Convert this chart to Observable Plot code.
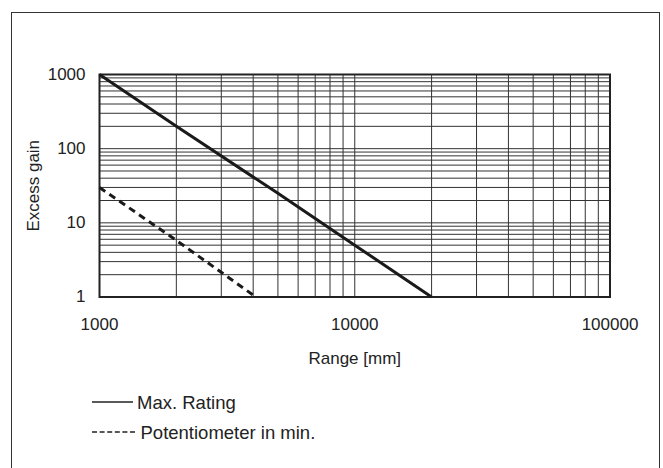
<!DOCTYPE html>
<html><head><meta charset="utf-8">
<script src="https://cdn.jsdelivr.net/npm/d3@7"></script>
<script src="https://cdn.jsdelivr.net/npm/@observablehq/plot@0.6"></script>
<style>
body{margin:0;background:#fff;font-family:"Liberation Sans",Arial,sans-serif;color:#222}
#wrap{position:relative;width:663px;height:468px;overflow:hidden;background:#fff}
#frame{position:absolute;left:11px;top:12px;width:649px;height:470px;border:1px solid #333;box-sizing:border-box}
#chart{position:absolute;left:0;top:0}
.lg{position:absolute;white-space:nowrap;font-size:18.5px;line-height:1;color:#222}
.sw{position:absolute}
</style></head><body>
<div id="wrap"><div id="frame"></div><div id="chart"></div><div id="legend"></div></div>
<script>
// Data
const rangeMax = [1000, 2000, 5000, 10000, 20000];
const gainMax  = [1000, 200, 25, 5, 1];
const rangePot = [1000, 2000, 4100];
const gainPot  = [30, 5.8, 1];
const xTicks = [1000, 10000, 100000];
const yTicks = [1, 10, 100, 1000];
const seriesNames = ["Max. Rating", "Potentiometer in min."];
const xDecades = [1000, 10000];
const yDecades = [1, 10, 100];
const mult = [1, 2, 3, 4, 5, 6, 7, 8, 9];

const maxData = rangeMax.map((r, i) => ({range: r, gain: gainMax[i]}));
const potData = rangePot.map((r, i) => ({range: r, gain: gainPot[i]}));
const xGrid = xDecades.flatMap(d => mult.map(m => m * d)).concat([100000]);
const yGrid = yDecades.flatMap(d => mult.map(m => m * d)).concat([1000]);

const chart = Plot.plot({
  width: 663, height: 380,
  marginLeft: 99, marginRight: 53.5, marginTop: 74, marginBottom: 83.5,
  style: {fontFamily: "'Liberation Sans', Arial, sans-serif", fontSize: "17px", color: "#222", background: "transparent", overflow: "visible"},
  x: {type: "log", domain: [1000, 100000]},
  y: {type: "log", domain: [1, 1000]},
  marks: [
    Plot.ruleX(xGrid, {stroke: "#333", strokeWidth: 1}),
    Plot.ruleY(yGrid, {stroke: "#333", strokeWidth: 1}),
    Plot.frame({stroke: "#222", strokeWidth: 2}),
    Plot.line(maxData, {x: "range", y: "gain", stroke: "#1a1a1a", strokeWidth: 3, strokeLinecap: "butt"}),
    Plot.line(potData, {x: "range", y: "gain", stroke: "#1a1a1a", strokeWidth: 3, strokeDasharray: "7,5", strokeLinecap: "butt"}),
    Plot.axisX({ticks: xTicks, tickSize: 0, tickPadding: 21, tickFormat: d3.format("d"),
      label: "Range [mm]", labelAnchor: "center", labelArrow: "none", labelOffset: 67}),
    Plot.axisY({ticks: yTicks, tickSize: 0, tickPadding: 14, tickFormat: d3.format("d"),
      label: "Excess gain", labelAnchor: "center", labelArrow: "none", labelOffset: 73})
  ]
});
document.getElementById("chart").appendChild(chart);

// Legend
const legend = document.getElementById("legend");
legend.innerHTML = `
  <svg class="sw" style="left:92px;top:397px" width="46" height="10"><line x1="0" x2="41" y1="5" y2="5" stroke="#222" stroke-width="1.3"/></svg>
  <div class="lg" style="left:137px;top:393.5px">${seriesNames[0]}</div>
  <svg class="sw" style="left:92px;top:427px" width="46" height="10"><line x1="0" x2="43" y1="5" y2="5" stroke="#222" stroke-width="1.3" stroke-dasharray="5,2.6"/></svg>
  <div class="lg" style="left:140.5px;top:423.5px">${seriesNames[1]}</div>`;
</script>
</body></html>
